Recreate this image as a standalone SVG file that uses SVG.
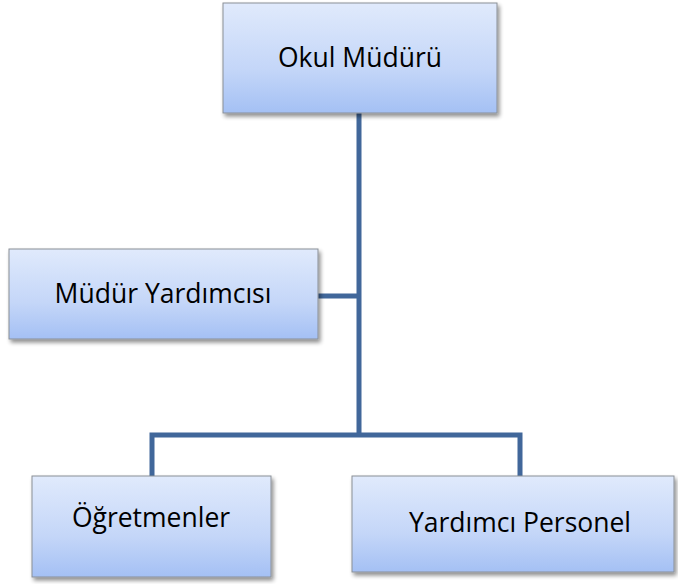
<svg xmlns="http://www.w3.org/2000/svg" width="678" height="584" viewBox="0 0 678 584">
<defs>
<linearGradient id="g" x1="0" y1="0" x2="0" y2="1">
<stop offset="0" stop-color="#e0eafc"/>
<stop offset="0.6" stop-color="#c4d6f8"/>
<stop offset="1" stop-color="#a4c0f4"/>
</linearGradient>
<filter id="sh" x="-10%" y="-10%" width="130%" height="130%">
<feGaussianBlur in="SourceAlpha" stdDeviation="2"/>
<feOffset dx="2" dy="3" result="b"/>
<feComponentTransfer><feFuncA type="linear" slope="0.45"/></feComponentTransfer>
<feMerge><feMergeNode/><feMergeNode in="SourceGraphic"/></feMerge>
</filter>
</defs>
<style>
.box{fill:url(#g);stroke:#8a8f96;stroke-width:1;filter:url(#sh)}
.t{font-family:"Open Sans","Liberation Sans",sans-serif;font-size:26.5px;fill:#000;text-anchor:middle}
.c{fill:none;stroke:#41679a;stroke-width:5}
</style>
<rect width="678" height="584" fill="#fff"/>
<g id="connectors">
<path class="c" d="M359 113 V435"/>
<path class="c" d="M318 296 H359"/>
<path class="c" d="M152 476 V435 H520 V476"/>
</g>
<g id="okul-muduru">
<rect class="box" x="223" y="3" width="274" height="110"/>
<text class="t" x="360" y="67">Okul Müdürü</text>
</g>
<g id="mudur-yardimcisi">
<rect class="box" x="9" y="249" width="309" height="90"/>
<text class="t" x="163" y="303">Müdür Yardımcısı</text>
</g>
<g id="ogretmenler">
<rect class="box" x="32" y="476" width="239" height="101"/>
<text class="t" x="151" y="527">Öğretmenler</text>
</g>
<g id="yardimci-personel">
<rect class="box" x="352" y="476" width="322" height="96"/>
<text class="t" x="520" y="532">Yardımcı Personel</text>
</g>
</svg>
